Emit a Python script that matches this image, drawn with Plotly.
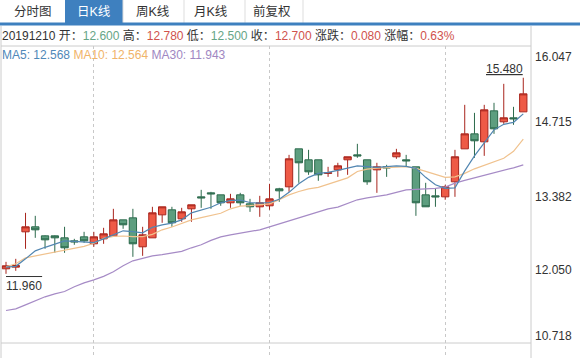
import plotly.graph_objects as go

# ---------------- data ----------------
idx = list(range(54))
open_ = [12.050, 12.080, 12.714, 12.804, 12.642, 12.642, 12.606, 12.552, 12.624, 12.499,
         12.588, 12.642, 12.929, 12.965, 12.445, 12.606, 13.019, 13.109, 12.947, 13.127,
         13.342, 13.414, 13.378, 13.235, 13.378, 13.217, 13.163, 13.181, 13.486, 13.522,
         14.204, 14.007, 14.007, 13.764, 13.827, 14.007, 14.096, 14.007, 13.827, 13.881,
         14.061, 14.007, 13.881, 13.378, 13.360, 13.342, 13.612, 14.204, 14.473, 14.330,
         14.886, 14.689, 14.761, 14.868]
high = [12.175, 12.229, 13.055, 13.001, 12.650, 12.650, 12.804, 12.588, 12.714, 12.714,
        12.786, 13.127, 12.929, 13.127, 12.804, 13.163, 13.163, 13.163, 13.145, 13.199,
        13.468, 13.432, 13.378, 13.396, 13.414, 13.306, 13.360, 13.576, 13.504, 14.096,
        14.204, 14.186, 14.007, 13.881, 13.953, 14.061, 14.294, 14.007, 13.953, 13.917,
        14.204, 14.096, 13.881, 13.594, 13.486, 13.558, 14.186, 14.994, 14.850, 14.994,
        15.030, 15.371, 14.958, 15.480]
low = [11.960, 12.014, 12.409, 12.606, 12.409, 12.337, 12.337, 12.481, 12.517, 12.445,
       12.499, 12.642, 12.768, 12.265, 12.283, 12.606, 12.876, 12.804, 12.894, 12.894,
       13.145, 13.127, 13.181, 13.145, 13.181, 13.073, 12.983, 13.109, 13.253, 13.432,
       13.594, 13.737, 13.630, 13.701, 13.701, 13.737, 14.043, 13.558, 13.414, 13.701,
       14.025, 13.881, 13.001, 13.163, 13.163, 13.289, 13.342, 14.204, 14.043, 14.078,
       14.473, 14.653, 14.635, 14.868]
close = [12.104, 12.109, 12.804, 12.750, 12.570, 12.606, 12.427, 12.534, 12.552, 12.624,
         12.678, 12.929, 12.840, 12.499, 12.660, 13.055, 13.163, 12.876, 13.073, 13.199,
         13.324, 13.396, 13.235, 13.306, 13.235, 13.163, 13.235, 13.306, 13.450, 14.025,
         13.953, 13.791, 13.737, 13.773, 13.899, 14.061, 14.078, 13.612, 13.881, 13.863,
         14.132, 13.989, 13.235, 13.163, 13.342, 13.522, 14.061, 14.473, 14.348, 14.904,
         14.563, 14.761, 14.743, 15.191]

ma5 = [12.080, 12.095, 12.229, 12.373, 12.436, 12.490, 12.552, 12.543, 12.534, 12.522,
       12.588, 12.660, 12.732, 12.719, 12.696, 12.795, 12.840, 12.870, 12.929, 13.055,
       13.109, 13.154, 13.235, 13.280, 13.283, 13.240, 13.229, 13.240, 13.298, 13.423,
       13.576, 13.692, 13.764, 13.782, 13.818, 13.858, 13.899, 13.886, 13.872, 13.886,
       13.899, 13.890, 13.854, 13.692, 13.558, 13.495, 13.504, 13.809, 14.078, 14.312,
       14.545, 14.644, 14.680, 14.832]
ma10 = [12.086, 12.140, 12.247, 12.283, 12.319, 12.346, 12.382, 12.418, 12.454, 12.508,
        12.597, 12.633, 12.639, 12.628, 12.628, 12.669, 12.750, 12.800, 12.858, 12.929,
        12.969, 13.007, 13.048, 13.127, 13.175, 13.186, 13.195, 13.217, 13.292, 13.378,
        13.438, 13.486, 13.513, 13.567, 13.621, 13.683, 13.797, 13.840, 13.858, 13.868,
        13.885, 13.886, 13.854, 13.800, 13.737, 13.692, 13.701, 13.764, 13.845, 13.908,
        13.971, 14.034, 14.159, 14.378]
ma30 = [11.301, 11.332, 11.403, 11.475, 11.547, 11.601, 11.642, 11.727, 11.798, 11.852,
        11.915, 11.996, 12.104, 12.193, 12.238, 12.283, 12.306, 12.337, 12.364, 12.427,
        12.481, 12.561, 12.624, 12.660, 12.691, 12.723, 12.750, 12.804, 12.858, 12.912,
        12.960, 13.028, 13.082, 13.127, 13.157, 13.217, 13.289, 13.324, 13.351, 13.378,
        13.423, 13.468, 13.477, 13.481, 13.495, 13.517, 13.588, 13.639, 13.683, 13.737,
        13.773, 13.815, 13.863, 13.917]

y_tick_vals = [16.047, 14.715, 13.382, 12.050, 10.718]
y_tick_text = ["16.047", "14.715", "13.382", "12.050", "10.718"]
month_lines = [9, 27, 45]

tabs = ["分时图", "日K线", "周K线", "月K线", "前复权"]
info_date = "20191210"
info_open, info_high, info_low, info_close = "12.600", "12.780", "12.500", "12.700"
info_chg, info_pct = "0.080", "0.63%"
ma_labels = [("MA5", "12.568"), ("MA10", "12.564"), ("MA30", "11.943")]
max_label, min_label = "15.480", "11.960"

# ---------------- styling ----------------
W, H = 583, 358
L, R, T, B = 1, 52, 46, 0
PW, PH = W - L - R, H - T - B
FONT = "Liberation Sans, Arial, Noto Sans CJK SC, sans-serif"
RED_FILL, RED_LINE = "#ee5a46", "#a8251d"
GRN_FILL, GRN_LINE = "#5d9e7f", "#2c6a4c"
C_MA5, C_MA10, C_MA30 = "#5286b1", "#f0c28e", "#a68bc6"
T_RED, T_GRN = "#d0524c", "#66a586"
BLUE = "#3e80bf"
GRAY = "#cccccc"

def px(x):
    return (x - L) / PW

def py(y):
    return (H - y) / PH

fig = go.Figure()
fig.add_trace(go.Candlestick(
    x=idx, open=open_, high=high, low=low, close=close,
    increasing=dict(line=dict(color=RED_LINE, width=1), fillcolor=RED_FILL),
    decreasing=dict(line=dict(color=GRN_LINE, width=1), fillcolor=GRN_FILL),
    whiskerwidth=0, showlegend=False, hoverinfo="skip"))
for vals, col in [(ma30, C_MA30), (ma10, C_MA10), (ma5, C_MA5)]:
    fig.add_trace(go.Scatter(x=idx, y=vals, mode="lines",
                             line=dict(color=col, width=1.2),
                             showlegend=False, hoverinfo="skip"))

x0 = (L - 6) / 9.76
x1 = (L + PW - 6) / 9.76
fig.update_layout(
    width=W, height=H, margin=dict(l=L, r=R, t=T, b=B, pad=0),
    paper_bgcolor="white", plot_bgcolor="white",
    boxgap=0.25, boxgroupgap=0,
    font=dict(family=FONT, size=12, color="#333"),
    xaxis=dict(range=[x0, x1], rangeslider=dict(visible=False),
               tickvals=month_lines, showticklabels=False, ticks="",
               showgrid=True, gridcolor="#c8c8c8", griddash="dot", gridwidth=1,
               zeroline=False, showline=False, fixedrange=True),
    yaxis=dict(range=[10.718 - 15 / 55.7, 10.718 + (343 - 46) / 55.7],
               showticklabels=False, ticks="", showgrid=False,
               zeroline=False, showline=False, fixedrange=True),
)

shapes = []
# tabs area
shapes.append(dict(type="rect", xref="paper", yref="paper",
                   x0=px(65), x1=px(123), y0=py(24), y1=py(0),
                   fillcolor=BLUE, line=dict(width=0), layer="below"))
for xs in [123, 184, 245, 303]:
    shapes.append(dict(type="line", xref="paper", yref="paper",
                       x0=px(xs), x1=px(xs), y0=py(23), y1=py(0),
                       line=dict(color="#dddddd", width=1)))
shapes.append(dict(type="rect", xref="paper", yref="paper",
                   x0=px(0), x1=px(580), y0=py(25.5), y1=py(22.5),
                   fillcolor=BLUE, line=dict(width=0)))
# borders
shapes.append(dict(type="line", xref="paper", yref="paper",
                   x0=0, x1=1, y0=1, y1=1, line=dict(color=GRAY, width=1)))
shapes.append(dict(type="line", xref="paper", yref="paper",
                   x0=1, x1=1, y0=0, y1=py(26), line=dict(color=GRAY, width=1)))
shapes.append(dict(type="line", xref="paper", yref="paper",
                   x0=0, x1=0, y0=0, y1=py(26), line=dict(color=GRAY, width=1)))
shapes.append(dict(type="line", xref="paper", yref="y",
                   x0=0, x1=1, y0=10.718, y1=10.718, line=dict(color=GRAY, width=1)))
# overline of min label
shapes.append(dict(type="line", xref="x", yref="y",
                   x0=0, x1=3.7, y0=11.960 - 2.7 / 55.7, y1=11.960 - 2.7 / 55.7,
                   line=dict(color="#333", width=1)))
fig.update_layout(shapes=shapes)

ann = []
tab_cx = [33, 94, 152.5, 211, 271.5]
for t, cx in zip(tabs, tab_cx):
    ann.append(dict(xref="paper", yref="paper", x=px(cx), y=py(12),
                    xanchor="center", yanchor="middle", showarrow=False, text=t,
                    font=dict(size=12.5, color="white" if t == "日K线" else "#333")))

def c(s, col):
    return f"<span style='color:{col}'>{s}</span>"

info = (f"{info_date} 开：{c(info_open, T_GRN)} 高：{c(info_high, T_RED)} "
        f"低：{c(info_low, T_GRN)} 收：{c(info_close, T_RED)} "
        f"涨跌：{c(info_chg, T_RED)} 涨幅：{c(info_pct, T_RED)}")
ann.append(dict(xref="paper", yref="paper", x=px(0), y=py(36), xanchor="left",
                yanchor="middle", showarrow=False, text=info,
                font=dict(size=12, color="#333")))
ma_text = " ".join(c(f"{n}: {v}", col) for (n, v), col in
                   zip(ma_labels, ["#4f88b8", "#f0b46a", "#a087c2"]))
ann.append(dict(xref="paper", yref="paper", x=px(0), y=py(55), xanchor="left",
                yanchor="middle", showarrow=False, text=ma_text,
                font=dict(size=12)))
# right axis labels
shifts = [-11, -2, -2, -1, 7]
for v, t, s in zip(y_tick_vals, y_tick_text, shifts):
    ann.append(dict(xref="paper", yref="y", x=1, y=v, xanchor="left",
                    yanchor="middle", xshift=2, yshift=s, showarrow=False, text=t,
                    font=dict(size=12, color="#333")))
# max / min labels
ann.append(dict(xref="x", yref="y", x=53, y=max(high), xanchor="right",
                yanchor="bottom", xshift=2, yshift=0, showarrow=False,
                text=f"<u>{max_label}</u>", font=dict(size=12, color="#333")))
ann.append(dict(xref="x", yref="y", x=0, y=min(low), xanchor="left",
                yanchor="top", xshift=-2, yshift=-3, showarrow=False,
                text=min_label, font=dict(size=12, color="#333")))
fig.update_layout(annotations=ann)

fig.write_html("out.html", config={"displayModeBar": False},
               post_script="document.body.style.margin='0px';document.body.style.padding='0px';")
